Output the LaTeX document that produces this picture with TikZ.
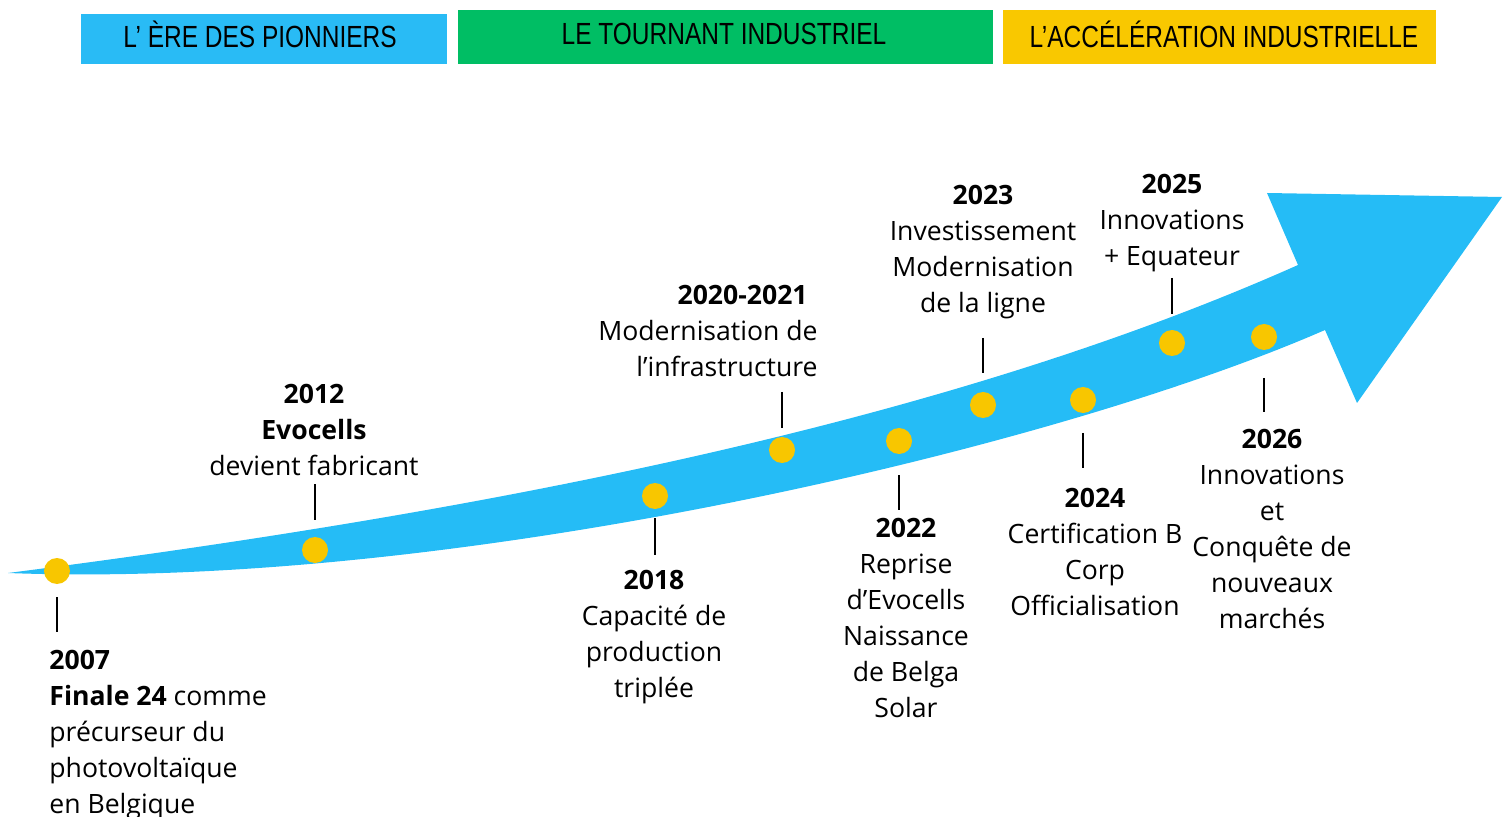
\documentclass[tikz,border=0pt]{standalone}
\usepackage{fontspec}
\setmainfont{Open Sans}
\newfontfamily\headfont[FakeStretch=0.8]{Liberation Sans}
\definecolor{bandblue}{HTML}{25BCF6}
\definecolor{hdrblue}{HTML}{29BBF5}
\definecolor{hdrgreen}{HTML}{00BE64}
\definecolor{hdryellow}{HTML}{F9C800}
\definecolor{dotyellow}{HTML}{F8C600}
\tikzset{
  hdrtext/.style={inner sep=0pt, font=\headfont\fontsize{15.3}{17}\selectfont, text=black},
  dot/.style={circle, fill=dotyellow, draw=none, minimum size=13pt, inner sep=0pt},
  tickline/.style={line width=1pt, black},
  lbl/.style={inner sep=0pt, align=center, anchor=north, font=\fontsize{13.3}{18}\selectfont},
}
\begin{document}
\begin{tikzpicture}[x=0.5pt,y=-0.5pt]
\useasboundingbox (0,0) rectangle (1508,817);

% header bars
\fill[hdrblue] (81,14) rectangle (447,64);
\fill[hdrgreen] (458,10) rectangle (993,64);
\fill[hdryellow] (1003,10) rectangle (1436,64);
\node[hdrtext] (h1) at (260,34) {L’ ÈRE DES PIONNIERS};
\node[hdrtext] (h2) at (724,34) {LE TOURNANT INDUSTRIEL};
\node[hdrtext] (h3) at (1224,34) {L’ACCÉLÉRATION INDUSTRIELLE};

% arrow band
\fill[bandblue] (8,573) .. controls (500,510) and (950,420) .. (1298,265)
  -- (1267,193) -- (1502,197) -- (1357,403) -- (1325,330)
  .. controls (1050,450) and (450,590) .. (8,573) -- cycle;

% dots
\node[dot] (d07) at (57,571) {};
\node[dot] (d12) at (315,550) {};
\node[dot] (d18) at (655,496) {};
\node[dot] (d20) at (782,450) {};
\node[dot] (d22) at (899,441) {};
\node[dot] (d23) at (983,405) {};
\node[dot] (d24) at (1083,400) {};
\node[dot] (d25) at (1172,343) {};
\node[dot] (d26) at (1264,337) {};

% tick coordinates
\coordinate (t07a) at (57,597);   \coordinate (t07b) at (57,632);
\coordinate (t12a) at (315,484);  \coordinate (t12b) at (315,520);
\coordinate (t18a) at (655,518);  \coordinate (t18b) at (655,555);
\coordinate (t20a) at (782,392);  \coordinate (t20b) at (782,428);
\coordinate (t22a) at (899,475);  \coordinate (t22b) at (899,510);
\coordinate (t23a) at (983,338);  \coordinate (t23b) at (983,373);
\coordinate (t24a) at (1083,433); \coordinate (t24b) at (1083,468);
\coordinate (t25a) at (1172,278); \coordinate (t25b) at (1172,314);
\coordinate (t26a) at (1264,378); \coordinate (t26b) at (1264,412);
\foreach \t in {07,12,18,20,22,23,24,25,26}{\draw[tickline] (t\t a) -- (t\t b);}

% labels
\node[lbl, align=left, anchor=north west] (l07) at (49,650) {\textbf{2007}\\\textbf{Finale 24} comme\\précurseur du\\photovoltaïque\\en Belgique};
\node[lbl] (l12) at (314,384) {\textbf{2012}\\\textbf{Evocells}\\devient fabricant};
\node[lbl] (l18) at (654,570) {\textbf{2018}\\Capacité de\\production\\triplée};
\node[lbl, align=right, anchor=north east] (l20) at (818,285) {\textbf{2020-2021}\hspace*{5pt}\\Modernisation de\\l’infrastructure};
\node[lbl] (l22) at (906,518) {\textbf{2022}\\Reprise\\d’Evocells\\Naissance\\de Belga\\Solar};
\node[lbl] (l23) at (983,185) {\textbf{2023}\\Investissement\\Modernisation\\de la ligne};
\node[lbl] (l24) at (1095,488) {\textbf{2024}\\Certification B\\Corp\\Officialisation};
\node[lbl] (l25) at (1172,174) {\textbf{2025}\\Innovations\\+ Equateur};
\node[lbl] (l26) at (1272,429) {\textbf{2026}\\Innovations\\et\\Conquête de\\nouveaux\\marchés};
\end{tikzpicture}
\end{document}
